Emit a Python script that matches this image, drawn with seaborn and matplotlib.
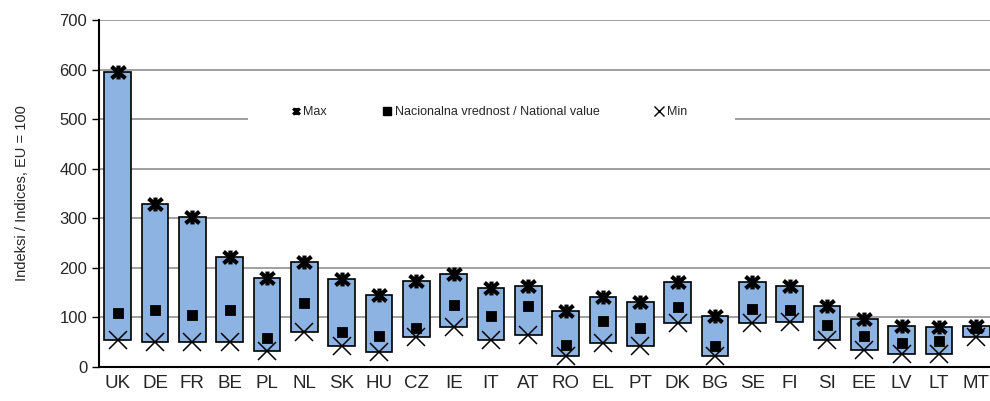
import matplotlib
matplotlib.use("Agg")
import matplotlib.pyplot as plt
from matplotlib.lines import Line2D
from matplotlib.path import Path
from matplotlib.patches import Rectangle
import numpy as np
import pandas as pd
import seaborn as sns

countries = ["UK", "DE", "FR", "BE", "PL", "NL", "SK", "HU", "CZ", "IE", "IT", "AT",
             "RO", "EL", "PT", "DK", "BG", "SE", "FI", "SI", "EE", "LV", "LT", "MT"]
max_vals = [596, 328, 303, 222, 180, 212, 177, 145, 174, 187, 159, 164,
            113, 142, 132, 171, 103, 171, 164, 123, 96, 83, 80, 83]
national_vals = [108, 114, 105, 115, 58, 130, 71, 62, 79, 126, 103, 123,
                 44, 93, 78, 122, 42, 117, 114, 85, 62, 49, 53, 78]
min_vals = [54, 51, 51, 51, 32, 71, 42, 30, 61, 81, 54, 64,
            23, 49, 42, 88, 23, 88, 90, 54, 35, 26, 26, 61]
y_ticks = [0, 100, 200, 300, 400, 500, 600, 700]

df = pd.DataFrame({"country": countries, "max": max_vals,
                   "national": national_vals, "min": min_vals})
df["span"] = df["max"] - df["min"]

sns.set_style("white")
plt.rcParams["font.family"] = ["Liberation Sans", "DejaVu Sans"]

# Excel-like star marker: X with a vertical bar
star = Path([(-1, -0.85), (1, 0.85), (-1, 0.85), (1, -0.85), (0, -1), (0, 1)],
            [Path.MOVETO, Path.LINETO, Path.MOVETO, Path.LINETO, Path.MOVETO, Path.LINETO])

fig = plt.figure(figsize=(9.9, 4.01), dpi=100)
ax = fig.add_axes([99 / 990, 1 - 367 / 401, 896 / 990, 347 / 401])

for v in y_ticks[1:]:
    ax.axhline(v, color="#999999", lw=1.3, zorder=0)
ax.add_patch(Rectangle((248 / 990, 1 - 119.5 / 401), (735 - 248) / 990, 16 / 401,
                       transform=fig.transFigure, facecolor="white", edgecolor="none",
                       zorder=1))

sns.barplot(data=df, x="country", y="span", bottom=df["min"], color="#8db3e2",
            saturation=1, edgecolor="black", linewidth=1.2, width=0.72,
            errorbar=None, ax=ax, zorder=2)

sns.pointplot(data=df, x="country", y="max", linestyle="none", markers=star,
              color="black", markersize=10, markeredgewidth=3.0, errorbar=None,
              ax=ax, zorder=4)
sns.pointplot(data=df, x="country", y="national", linestyle="none", markers="s",
              color="black", markersize=6, errorbar=None, ax=ax, zorder=4)
sns.pointplot(data=df, x="country", y="min", linestyle="none", markers="x",
              color="black", markersize=13, markeredgewidth=1.1, errorbar=None,
              ax=ax, zorder=4)

ax.set_xlim(-0.5, len(countries) - 0.5)
ax.set_ylim(0, 700)
ax.set_yticks(y_ticks)
ax.set_yticklabels([str(t) for t in y_ticks], fontsize=12)
ax.set_xticks(range(len(countries)))
ax.set_xticklabels(countries, fontsize=13.5)
ax.set_xticks(np.arange(-0.5, len(countries), 1.0), minor=True)
ax.tick_params(axis="x", which="major", length=0, pad=6)
ax.tick_params(axis="x", which="minor", length=5, width=1, color="black", direction="out")
ax.tick_params(axis="y", length=5, width=1, color="black", direction="out", left=True)
ax.set_xlabel("")
ax.set_ylabel("Indeksi / Indices, EU = 100", fontsize=10.5, labelpad=22)

for s in ["top", "right"]:
    ax.spines[s].set_visible(False)
for s in ["left", "bottom"]:
    ax.spines[s].set_color("black")
    ax.spines[s].set_linewidth(1.5)

handles = [
    Line2D([], [], ls="none", marker=star, color="black", markersize=5, markeredgewidth=2.2),
    Line2D([], [], ls="none", marker="s", color="black", markersize=5.5),
    Line2D([], [], ls="none", marker="x", color="black", markersize=7, markeredgewidth=1),
]
labels = ["Max", "Nacionalna vrednost / National value", "Min"]
leg = ax.legend(handles, labels, ncol=3, loc="center", bbox_to_anchor=(489 / 990, 1 - 112 / 401),
                bbox_transform=fig.transFigure, frameon=False, fontsize=9,
                handlelength=0.8, handletextpad=0.2, columnspacing=4.4,
                borderpad=0.5)
leg.set_zorder(5)

fig.savefig("out.png", dpi=100)
